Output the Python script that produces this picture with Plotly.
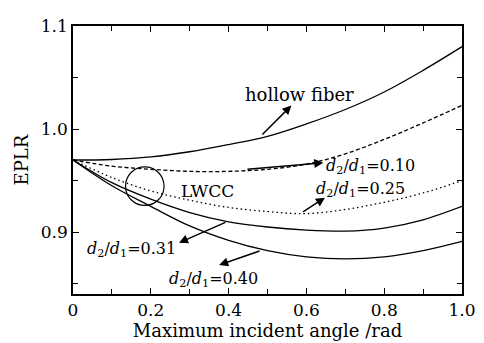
import plotly.graph_objects as go

# ---- data ----
angle = [0.0, 0.1, 0.2, 0.3, 0.4, 0.5, 0.6, 0.7, 0.8, 0.9, 1.0]
hollow_fiber = [0.970, 0.9705, 0.973, 0.978, 0.985, 0.993, 1.005, 1.019, 1.036, 1.057, 1.080]
ratio_010 = [0.970, 0.964, 0.961, 0.959, 0.959, 0.961, 0.966, 0.976, 0.990, 1.006, 1.023]
ratio_025 = [0.970, 0.953, 0.940, 0.931, 0.924, 0.920, 0.918, 0.922, 0.929, 0.938, 0.950]
ratio_031 = [0.970, 0.948, 0.932, 0.919, 0.910, 0.905, 0.902, 0.901, 0.904, 0.912, 0.925]
ratio_040 = [0.970, 0.945, 0.925, 0.906, 0.892, 0.882, 0.876, 0.874, 0.876, 0.882, 0.891]

x_ticks = [0, 0.2, 0.4, 0.6, 0.8, 1.0]
x_tick_labels = ["0", "0.2", "0.4", "0.6", "0.8", "1.0"]
y_ticks = [0.9, 1.0, 1.1]
y_tick_labels = ["0.9", "1.0", "1.1"]

FONT = "DejaVu Serif"

fig = go.Figure()
series = [
    (hollow_fiber, "solid"),
    (ratio_010, "4px,2.5px"),
    (ratio_025, "1.5px,3px"),
    (ratio_031, "solid"),
    (ratio_040, "solid"),
]
for ys, dash in series:
    fig.add_trace(go.Scatter(x=angle, y=ys, mode="lines",
                             line=dict(color="black", width=1.3, dash=dash, shape="spline"),
                             showlegend=False, hoverinfo="skip"))

def arrow(tail, head):
    fig.add_annotation(x=head[0], y=head[1], ax=tail[0], ay=tail[1],
                       xref="x", yref="y", axref="x", ayref="y",
                       text="", showarrow=True, arrowhead=2, arrowsize=1.2,
                       arrowwidth=1.5, arrowcolor="black")

def label(x, y, text, size=16):
    fig.add_annotation(x=x, y=y, xref="x", yref="y", text=text, showarrow=False,
                       font=dict(family=FONT, size=size, color="black"),
                       xanchor="center", yanchor="middle")

def ratio_text(v):
    return "<i>d</i><sub>2</sub>/<i>d</i><sub>1</sub>=" + v

arrow((0.483, 0.9932), (0.5615, 1.0229))
arrow((0.4445, 0.9608), (0.6434, 0.9674))
arrow((0.5874, 0.9188), (0.6477, 0.9334))
arrow((0.3956, 0.9101), (0.2725, 0.8897))
arrow((0.4834, 0.8822), (0.3757, 0.8681))

label(0.5814, 1.0335, "hollow fiber", 18)
label(0.766, 0.964, ratio_text("0.10"))
label(0.740, 0.9415, ratio_text("0.25"))
label(0.345, 0.9397, "LWCC", 17)
label(0.1505, 0.8835, ratio_text("0.31"))
label(0.36, 0.8545, ratio_text("0.40"))

fig.add_shape(type="circle", xref="x", yref="y",
              x0=0.135, x1=0.234, y0=0.9259, y1=0.9634,
              line=dict(color="black", width=1.2))

axis_common = dict(showline=True, linecolor="black", linewidth=1.5, mirror="ticks",
                   ticks="inside", ticklen=6, tickwidth=1.2, tickcolor="black",
                   showgrid=False, zeroline=False, ticklabeloverflow="allow",
                   tickfont=dict(family=FONT, size=17, color="black"))

fig.update_xaxes(range=[0, 1.0], tickvals=x_ticks, ticktext=x_tick_labels,
                 minor=dict(dtick=0.1, tick0=0, ticks="inside", ticklen=5, tickcolor="black", tickwidth=1.2),
                 title=dict(text="Maximum incident angle /rad", standoff=2,
                            font=dict(family=FONT, size=18, color="black")),
                 **axis_common)
fig.update_yaxes(range=[0.84, 1.1], tickvals=y_ticks, ticktext=y_tick_labels,
                 minor=dict(dtick=0.05, tick0=0.85, ticks="inside", ticklen=5, tickcolor="black", tickwidth=1.2),
                 title=dict(text="EPLR", standoff=8,
                            font=dict(family=FONT, size=18, color="black")),
                 **axis_common)

fig.update_layout(width=476, height=335,
                  margin=dict(l=65, r=16, t=8, b=42),
                  paper_bgcolor="white", plot_bgcolor="white",
                  font=dict(family=FONT, size=16, color="black"))

fig.write_html("out.html")
